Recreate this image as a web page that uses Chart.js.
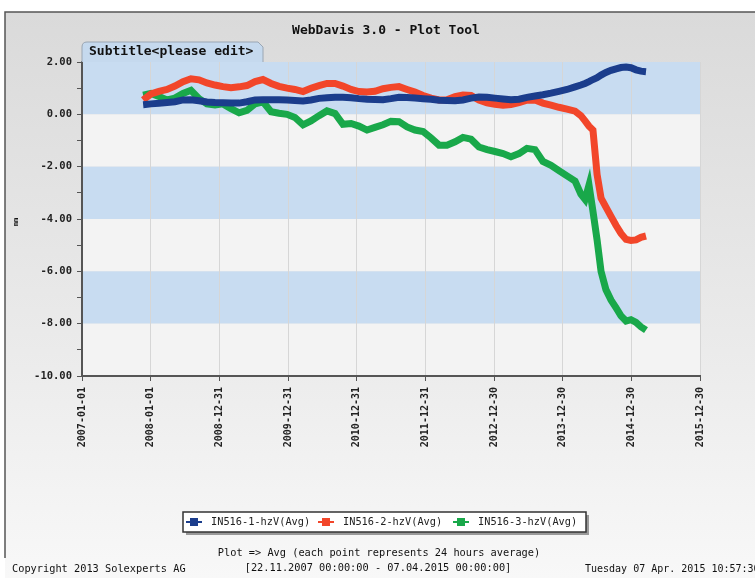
<!DOCTYPE html>
<html lang="en">
<head>
<meta charset="UTF-8">
<title>WebDavis 3.0 - Plot Tool</title>
<script src="https://cdn.jsdelivr.net/npm/chart.js"></script>
<style>
    body { margin: 0; background: #fff; }
    canvas { display: block; }
</style>
</head>
<body>
<canvas id="plot" width="755" height="578"></canvas>
<script>
// x axis: days since 2007-01-01, one tick every 365 days
const tickLabels = ['2007-01-01', '2008-01-01', '2008-12-31', '2009-12-31', '2010-12-31',
    '2011-12-31', '2012-12-30', '2013-12-30', '2014-12-30', '2015-12-30'];

const days = [325, 367, 409, 452, 494, 537, 579, 622, 664, 707, 749, 792, 835, 877, 920, 962,
    1005, 1047, 1090, 1132, 1175, 1217, 1260, 1302, 1345, 1387, 1430, 1472, 1515, 1557, 1600,
    1642, 1685, 1728, 1770, 1813, 1855, 1898, 1940, 1983, 2025, 2068, 2110, 2153, 2195, 2238,
    2280, 2323, 2365, 2408, 2450, 2493, 2535, 2578, 2621, 2652, 2674, 2695, 2716, 2738, 2759,
    2785, 2812, 2839, 2865, 2892, 2918, 2945, 2971, 2998];

const in516_1 = [0.37, 0.40, 0.42, 0.45, 0.48, 0.55, 0.56, 0.52, 0.47, 0.45, 0.44, 0.43, 0.43,
    0.48, 0.55, 0.56, 0.56, 0.56, 0.55, 0.53, 0.51, 0.55, 0.61, 0.63, 0.65, 0.65, 0.63, 0.60,
    0.58, 0.57, 0.56, 0.60, 0.65, 0.64, 0.62, 0.60, 0.58, 0.54, 0.53, 0.52, 0.55, 0.62, 0.66,
    0.65, 0.62, 0.59, 0.56, 0.58, 0.65, 0.70, 0.75, 0.81, 0.88, 0.95, 1.05, 1.12, 1.18, 1.25,
    1.33, 1.40, 1.50, 1.60, 1.68, 1.74, 1.79, 1.81, 1.78, 1.70, 1.65, 1.63];

const in516_2 = [0.55, 0.78, 0.88, 0.95, 1.08, 1.25, 1.36, 1.32, 1.20, 1.12, 1.06, 1.02, 1.05,
    1.10, 1.25, 1.33, 1.18, 1.07, 1.00, 0.95, 0.87, 1.00, 1.10, 1.18, 1.18, 1.08, 0.95, 0.87,
    0.85, 0.88, 0.98, 1.03, 1.06, 0.95, 0.85, 0.72, 0.62, 0.55, 0.56, 0.68, 0.74, 0.72, 0.55,
    0.44, 0.38, 0.35, 0.37, 0.45, 0.54, 0.55, 0.43, 0.35, 0.27, 0.20, 0.12, -0.05, -0.25, -0.45,
    -0.60, -2.30, -3.20, -3.55, -3.90, -4.25, -4.55, -4.78, -4.82, -4.80, -4.70, -4.65];

const in516_3 = [0.73, 0.80, 0.68, 0.55, 0.62, 0.80, 0.92, 0.60, 0.40, 0.36, 0.40, 0.22, 0.06,
    0.15, 0.40, 0.48, 0.10, 0.04, 0.00, -0.12, -0.40, -0.25, -0.05, 0.13, 0.03, -0.38, -0.35,
    -0.45, -0.60, -0.50, -0.40, -0.27, -0.28, -0.48, -0.60, -0.66, -0.90, -1.18, -1.18, -1.05,
    -0.88, -0.95, -1.25, -1.35, -1.42, -1.50, -1.62, -1.50, -1.30, -1.35, -1.80, -1.95, -2.15,
    -2.35, -2.55, -3.05, -3.25, -2.70, -3.70, -4.80, -6.00, -6.70, -7.10, -7.40, -7.70, -7.90,
    -7.85, -7.95, -8.12, -8.25];

const seriesNames = ['IN516-1-hzV(Avg)', 'IN516-2-hzV(Avg)', 'IN516-3-hzV(Avg)'];
const seriesColors = ['#1b3d8c', '#f2462a', '#19a84a'];

const MONO = '"DejaVu Sans Mono", monospace';

function pts(vals) {
    return vals.map((v, i) => ({ x: days[i], y: v }));
}

const frame = {
    id: 'frame',
    beforeDraw(chart) {
        const { ctx, chartArea: a, scales: { y } } = chart;
        ctx.save();
        const g = ctx.createLinearGradient(0, 12, 0, 578);
        g.addColorStop(0, '#dadada');
        g.addColorStop(0.6, '#ebebeb');
        g.addColorStop(1, '#f8f8f8');
        ctx.fillStyle = g;
        ctx.fillRect(5, 12, 750, 566);
        // frame lines
        ctx.strokeStyle = '#555';
        ctx.lineWidth = 1.5;
        ctx.beginPath();
        ctx.moveTo(5, 558);
        ctx.lineTo(5, 12);
        ctx.lineTo(755, 12);
        ctx.stroke();
        // alternating bands
        for (let v = 2, k = 0; v > -10; v -= 2, k++) {
            const top = y.getPixelForValue(v);
            const bot = y.getPixelForValue(v - 2);
            ctx.fillStyle = k % 2 === 0 ? '#c8dcf1' : '#f3f3f3';
            ctx.fillRect(a.left, top, a.right - a.left, bot - top);
        }
        ctx.restore();
    },
    afterDraw(chart) {
        const { ctx, chartArea: a } = chart;
        ctx.save();
        ctx.fillStyle = '#111';
        ctx.textBaseline = 'middle';

        ctx.font = 'bold 13px ' + MONO;
        ctx.textAlign = 'center';
        ctx.fillText('WebDavis 3.0 - Plot Tool', 386, 31);

        // subtitle tab
        ctx.beginPath();
        ctx.moveTo(a.left, a.top);
        ctx.lineTo(a.left, 47);
        ctx.quadraticCurveTo(a.left, 42, a.left + 5, 42);
        ctx.lineTo(258, 42);
        ctx.lineTo(263, 47);
        ctx.lineTo(263, a.top);
        ctx.fillStyle = '#c5d9ee';
        ctx.fill();
        ctx.strokeStyle = '#9aa6b3';
        ctx.lineWidth = 1;
        ctx.stroke();
        ctx.fillStyle = '#111';
        ctx.textAlign = 'left';
        ctx.fillText('Subtitle<please edit>', 89, 52);

        // unit label
        ctx.save();
        ctx.translate(16, 222);
        ctx.rotate(-Math.PI / 2);
        ctx.font = 'bold 7px ' + MONO;
        ctx.textAlign = 'center';
        ctx.fillText('mm', 0, 0);
        ctx.restore();

        // legend box
        ctx.fillStyle = '#999';
        ctx.fillRect(186, 515, 403, 20);
        ctx.fillStyle = '#fff';
        ctx.fillRect(183, 512, 403, 20);
        ctx.strokeStyle = '#333';
        ctx.lineWidth = 1.5;
        ctx.strokeRect(183, 512, 403, 20);
        const itemX = [186, 318, 453];
        ctx.font = '10.3px ' + MONO;
        chart.data.datasets.forEach((ds, i) => {
            const x = itemX[i];
            ctx.strokeStyle = ds.borderColor;
            ctx.lineWidth = 2;
            ctx.beginPath();
            ctx.moveTo(x, 522);
            ctx.lineTo(x + 16, 522);
            ctx.stroke();
            ctx.fillStyle = ds.borderColor;
            ctx.fillRect(x + 4, 518, 8, 8);
            ctx.fillStyle = '#222';
            ctx.textAlign = 'left';
            ctx.fillText(ds.label, x + 25, 522);
        });

        // footer
        ctx.fillStyle = '#111';
        ctx.textAlign = 'center';
        ctx.fillText('Plot => Avg (each point represents 24 hours average)', 379, 553);
        ctx.fillText('[22.11.2007 00:00:00 - 07.04.2015 00:00:00]', 378, 568);
        ctx.textAlign = 'left';
        ctx.fillText('Copyright 2013 Solexperts AG', 12, 569);
        ctx.font = '10px ' + MONO;
        ctx.fillText('Tuesday 07 Apr. 2015 10:57:30', 585, 569);
        ctx.restore();
    }
};

new Chart(document.getElementById('plot'), {
    type: 'line',
    data: {
        datasets: [in516_1, in516_2, in516_3].map((vals, i) => ({
            label: seriesNames[i],
            data: pts(vals),
            borderColor: seriesColors[i],
            backgroundColor: seriesColors[i],
            borderWidth: 7,
            pointRadius: 0,
            tension: 0,
            fill: false
        }))
    },
    options: {
        responsive: false,
        devicePixelRatio: 1,
        animation: false,
        layout: { padding: { top: 62, right: 55, left: 0, bottom: 0 } },
        plugins: { legend: { display: false }, tooltip: { enabled: false } },
        scales: {
            x: {
                type: 'linear',
                min: 0,
                max: 365 * (tickLabels.length - 1),
                afterBuildTicks: s => { s.ticks = tickLabels.map((_, i) => ({ value: i * 365 })); },
                afterFit: s => { s.height = 202; },
                ticks: {
                    autoSkip: false,
                    maxRotation: 90,
                    minRotation: 90,
                    padding: 6,
                    color: '#222',
                    font: { family: MONO, size: 10, weight: 'bold' },
                    callback: (v, i) => tickLabels[i]
                },
                grid: { color: '#d6d6d6', tickColor: '#555', tickLength: 5, lineWidth: 1 },
                border: { color: '#555', width: 2 }
            },
            y: {
                min: -10,
                max: 2,
                afterFit: s => { s.width = 82; },
                ticks: {
                    stepSize: 1,
                    padding: 5,
                    color: '#222',
                    font: { family: MONO, size: 10.5, weight: 'bold' },
                    callback: v => (v % 2 === 0 ? v.toFixed(2) : '')
                },
                grid: { drawOnChartArea: false, tickColor: '#555', tickLength: 5 },
                border: { color: '#555', width: 2 }
            }
        }
    },
    plugins: [frame]
});
</script>
</body>
</html>
